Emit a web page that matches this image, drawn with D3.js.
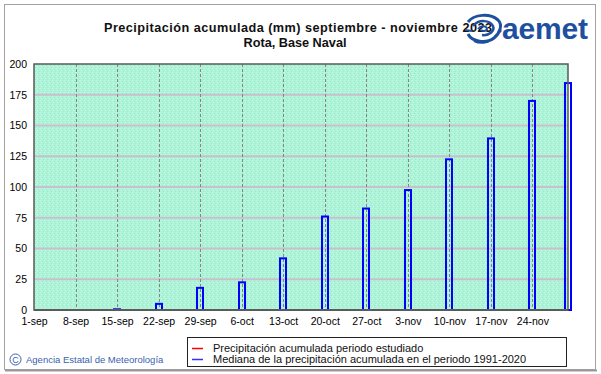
<!DOCTYPE html>
<html>
<head>
<meta charset="utf-8">
<script src="https://cdn.jsdelivr.net/npm/d3@7/dist/d3.min.js"></script>
<style>
body { margin: 0; background: #fff; }
svg text { font-family: "Liberation Sans", Arial, sans-serif; }
</style>
</head>
<body>
<div id="chart"></div>
<script>
const width = 601;
const height = 374;

// data
const weekLabels = ['1-sep', '8-sep', '15-sep', '22-sep', '29-sep', '6-oct', '13-oct',
    '20-oct', '27-oct', '3-nov', '10-nov', '17-nov', '24-nov'];
const weekDates = ['2023-09-01', '2023-09-08', '2023-09-15', '2023-09-22', '2023-09-29',
    '2023-10-06', '2023-10-13', '2023-10-20', '2023-10-27', '2023-11-03', '2023-11-10',
    '2023-11-17', '2023-11-24'];
const barDates = weekDates.concat(['2023-11-30']);
const medianValues = [0, 0, 0.6, 5, 18, 22.5, 42, 76, 82.5, 97.5, 122.5, 139.5, 170, 184.5];
const studiedValues = []; // the studied series has no points drawn
const yTicks = [0, 25, 50, 75, 100, 125, 150, 175, 200];

const parse = d3.utcParse('%Y-%m-%d');
const plot = {left: 34, right: 568, top: 64, bottom: 310};

const x = d3.scaleUtc()
    .domain([parse('2023-09-01'), parse('2023-11-30')])
    .range([plot.left, plot.right]);
const y = d3.scaleLinear()
    .domain([0, 200])
    .range([plot.bottom, plot.top]);

const svg = d3.select('#chart').append('svg')
    .attr('width', width)
    .attr('height', height);

// speckled mint background like the original dithering
const defs = svg.append('defs');
const pat = defs.append('pattern')
    .attr('id', 'speckle')
    .attr('width', 4).attr('height', 4)
    .attr('patternUnits', 'userSpaceOnUse');
pat.append('rect').attr('width', 4).attr('height', 4).attr('fill', '#acf3d7');
[[0, 0, '#c0fae5'], [2, 1, '#9be8ca'], [1, 2, '#c6fbe9'], [3, 3, '#a0eacd'], [3, 0, '#b5f6de']]
    .forEach(p => pat.append('rect').attr('x', p[0]).attr('y', p[1])
        .attr('width', 1).attr('height', 1).attr('fill', p[2]));

// outer frame
svg.append('rect')
    .attr('x', 4.5).attr('y', 4.5)
    .attr('width', 591).attr('height', 365)
    .attr('fill', 'none')
    .attr('stroke', '#444')
    .attr('stroke-dasharray', '1,1');
svg.append('line')
    .attr('x1', 5).attr('x2', 597).attr('y1', 370.5).attr('y2', 370.5)
    .attr('stroke', '#999').attr('stroke-width', 2);

// plot area
svg.append('rect')
    .attr('x', plot.left).attr('y', plot.top)
    .attr('width', plot.right - plot.left)
    .attr('height', plot.bottom - plot.top)
    .attr('fill', 'url(#speckle)');

// horizontal gridlines
svg.append('g')
    .selectAll('line')
    .data(yTicks.slice(1, -1))
    .enter().append('line')
    .attr('x1', plot.left).attr('x2', plot.right)
    .attr('y1', d => y(d)).attr('y2', d => y(d))
    .attr('stroke', '#cbbfcd')
    .attr('stroke-width', 2);

// vertical dashed gridlines
svg.append('g')
    .selectAll('line')
    .data(weekDates.slice(1))
    .enter().append('line')
    .attr('x1', d => Math.round(x(parse(d))) + 0.5)
    .attr('x2', d => Math.round(x(parse(d))) + 0.5)
    .attr('y1', plot.top).attr('y2', plot.bottom)
    .attr('stroke', '#858585')
    .attr('stroke-dasharray', '3,2');

// median bars (hollow, blue outline)
svg.append('g')
    .selectAll('rect')
    .data(barDates.map((d, i) => ({date: parse(d), value: medianValues[i]})).filter(d => d.value > 0))
    .enter().append('rect')
    .attr('x', d => Math.round(x(d.date)) - 3)
    .attr('y', d => y(d.value))
    .attr('width', 6)
    .attr('height', d => Math.max(0.5, plot.bottom - y(d.value)))
    .attr('fill', 'none')
    .attr('stroke', '#0000ff')
    .attr('stroke-width', 2);

// plot border
svg.append('rect')
    .attr('x', plot.left).attr('y', plot.top)
    .attr('width', plot.right - plot.left)
    .attr('height', plot.bottom - plot.top)
    .attr('fill', 'none')
    .attr('stroke', '#5a5a5a')
    .attr('stroke-width', 1.5);
svg.append('line')
    .attr('x1', plot.left).attr('x2', plot.right)
    .attr('y1', plot.bottom).attr('y2', plot.bottom)
    .attr('stroke', '#5a5a5a').attr('stroke-width', 2);

// axes
const yAxis = d3.axisLeft(y).tickValues(yTicks).tickSize(0).tickPadding(7);
svg.append('g')
    .attr('transform', `translate(${plot.left},0)`)
    .call(yAxis)
    .call(g => g.select('.domain').remove())
    .selectAll('text')
    .attr('font-size', '10.5px')
    .attr('fill', '#000')
    .attr('font-family', '"Liberation Sans", Arial, sans-serif');

const xAxis = d3.axisBottom(x)
    .tickValues(weekDates.map(parse))
    .tickFormat((d, i) => weekLabels[i])
    .tickSize(0)
    .tickPadding(8);
svg.append('g')
    .attr('transform', `translate(0,${plot.bottom})`)
    .call(xAxis)
    .call(g => g.select('.domain').remove())
    .selectAll('text')
    .attr('font-size', '10.5px')
    .attr('fill', '#000')
    .attr('font-family', '"Liberation Sans", Arial, sans-serif');

// titles
svg.append('text')
    .attr('x', 104).attr('y', 32)
    .attr('font-size', '12.7px').attr('font-weight', 'bold')
    .attr('fill', '#111')
    .attr('textLength', 388)
    .attr('lengthAdjust', 'spacing')
    .text('Precipitación acumulada (mm) septiembre  - noviembre 2023');
svg.append('text')
    .attr('x', 295).attr('y', 47)
    .attr('text-anchor', 'middle')
    .attr('font-size', '12.7px').attr('font-weight', 'bold')
    .attr('fill', '#111')
    .text('Rota, Base Naval');

// aemet logo, drawn over the end of the title as in the original
const logo = svg.append('g').attr('fill', 'none').attr('stroke', '#1f4f9f');
logo.append('path')
    .attr('d', 'M468,22 C474,14 490,13 498,20 C503,25 500,33 494,38 C486,44 472,42 468,34')
    .attr('stroke-width', 3);
logo.append('path')
    .attr('d', 'M473,26 C479,19 490,20 493,26 C495,31 489,36 482,35')
    .attr('stroke-width', 2.5);
logo.append('path')
    .attr('d', 'M478,29 C481,25 487,26 487,29 C486,32 482,31 481,30')
    .attr('stroke-width', 2);
logo.append('path')
    .attr('d', 'M465,30 L472,31 M474,41 C480,44 488,43 490,40')
    .attr('stroke-width', 2);
logo.append('circle').attr('cx', 500).attr('cy', 31).attr('r', 1.6)
    .attr('fill', '#1f4f9f').attr('stroke', 'none');
svg.append('text')
    .attr('x', 502).attr('y', 39)
    .attr('font-size', '30px').attr('font-weight', 'bold')
    .attr('fill', '#1f4f9f')
    .attr('textLength', 86)
    .text('aemet');

// footer
svg.append('circle')
    .attr('cx', 15.5).attr('cy', 359.5).attr('r', 5.5)
    .attr('fill', 'none').attr('stroke', '#3a5fb0').attr('stroke-width', 1);
svg.append('text')
    .attr('x', 15.5).attr('y', 363)
    .attr('text-anchor', 'middle')
    .attr('font-size', '9px').attr('fill', '#3a5fb0')
    .text('C');
svg.append('text')
    .attr('x', 26).attr('y', 363)
    .attr('font-size', '9.5px').attr('fill', '#3a5fb0')
    .text('Agencia Estatal de Meteorología');

// legend
const legendItems = [
    {label: 'Precipitación acumulada periodo estudiado', color: '#ff0000', values: studiedValues},
    {label: 'Mediana de la precipitación acumulada en el periodo 1991-2020', color: '#3333ff', values: medianValues}
];
svg.append('rect')
    .attr('x', 187.5).attr('y', 337.5)
    .attr('width', 379).attr('height', 29)
    .attr('fill', '#fff').attr('stroke', '#222');
const legend = svg.append('g')
    .selectAll('g')
    .data(legendItems)
    .enter().append('g')
    .attr('transform', (d, i) => `translate(0,${348 + i * 11})`);
legend.append('line')
    .attr('x1', 192).attr('x2', 203)
    .attr('y1', 0.5).attr('y2', 0.5)
    .attr('stroke', d => d.color)
    .attr('stroke-width', 1.5);
legend.append('text')
    .attr('x', 213).attr('y', 4)
    .attr('font-size', '11px')
    .attr('fill', '#111')
    .text(d => d.label);
</script>
</body>
</html>
